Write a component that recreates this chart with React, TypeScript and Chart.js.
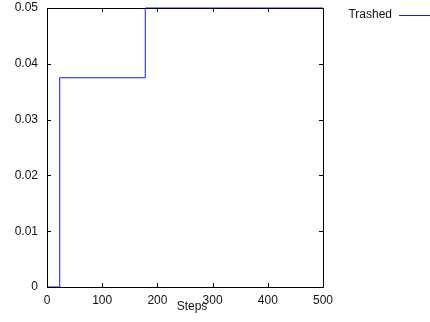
import React, { useEffect, useRef } from "react";
import { Chart, registerables } from "chart.js";

Chart.register(...registerables);

const steps = [0, 23, 178, 500];
const trashed = [0, 0.0375, 0.05, 0.05];
const xTicks = [0, 100, 200, 300, 400, 500];
const yTicks = [0, 0.01, 0.02, 0.03, 0.04, 0.05];
const yTickLabels = ["0", "0.01", "0.02", "0.03", "0.04", "0.05"];
const seriesName = "Trashed";
const xTitle = "Steps";

const FONT = "12px 'Liberation Sans', Arial, sans-serif";
const BLUE = "rgb(20,20,255)";

const framePlugin = {
  id: "frame",
  afterDatasetsDraw(chart: any) {
    const { ctx, chartArea, scales } = chart;
    const { left, right, top, bottom } = chartArea;
    ctx.save();
    ctx.strokeStyle = "#000";
    ctx.lineWidth = 1;
    ctx.beginPath();
    ctx.rect(Math.round(left) + 0.5, Math.round(top) + 0.5, Math.round(right - left), Math.round(bottom - top));
    ctx.stroke();
    const tl = 4;
    ctx.beginPath();
    for (const v of xTicks) {
      const x = Math.round(scales.x.getPixelForValue(v)) + 0.5;
      ctx.moveTo(x, bottom);
      ctx.lineTo(x, bottom - tl);
      ctx.moveTo(x, top);
      ctx.lineTo(x, top + tl);
    }
    for (const v of yTicks) {
      const y = Math.round(scales.y.getPixelForValue(v)) + 0.5;
      ctx.moveTo(left, y);
      ctx.lineTo(left + tl, y);
      ctx.moveTo(right, y);
      ctx.lineTo(right - tl, y);
    }
    ctx.stroke();
    ctx.fillStyle = "#111";
    ctx.font = FONT;
    ctx.textAlign = "center";
    ctx.textBaseline = "middle";
    ctx.fillText(xTitle, 192, 307);
    ctx.textAlign = "right";
    ctx.fillText(seriesName, 392, 15);
    ctx.strokeStyle = BLUE;
    ctx.beginPath();
    ctx.moveTo(399, 15.5);
    ctx.lineTo(430, 15.5);
    ctx.stroke();
    ctx.restore();
  },
};

export default function App() {
  const ref = useRef<HTMLCanvasElement>(null);
  useEffect(() => {
    if (!ref.current) return;
    const chart = new Chart(ref.current, {
      type: "line",
      data: {
        datasets: [
          {
            label: seriesName,
            data: steps.map((s, i) => ({ x: s, y: trashed[i] })),
            borderColor: BLUE,
            borderWidth: 1,
            pointRadius: 0,
            stepped: "before",
            fill: false,
            clip: 2,
          },
        ],
      },
      options: {
        responsive: false,
        animation: false,
        layout: { padding: { left: 0, top: 8, right: 107, bottom: 0 } },
        plugins: { legend: { display: false }, tooltip: { enabled: false } },
        scales: {
          x: {
            type: "linear",
            min: 0,
            max: 500,
            afterFit: (s: any) => {
              s.height = 35;
              s.paddingLeft = 0;
              s.paddingRight = 0;
            },
            afterBuildTicks: (s: any) => {
              s.ticks = xTicks.map((v) => ({ value: v }));
            },
            grid: { display: false, drawTicks: false },
            border: { display: false },
            ticks: {
              padding: 6,
              color: "#111",
              font: { family: "'Liberation Sans', Arial, sans-serif", size: 12 },
              maxRotation: 0,
              callback: (v: any) => String(v),
            },
          },
          y: {
            type: "linear",
            min: 0,
            max: 0.05,
            afterFit: (s: any) => {
              s.width = 47;
              s.paddingTop = 0;
              s.paddingBottom = 0;
            },
            afterBuildTicks: (s: any) => {
              s.ticks = yTicks.map((v) => ({ value: v }));
            },
            grid: { display: false, drawTicks: false },
            border: { display: false },
            ticks: {
              padding: 9,
              color: "#111",
              font: { family: "'Liberation Sans', Arial, sans-serif", size: 12 },
              callback: (v: any) => {
                const i = yTicks.findIndex((t) => Math.abs(t - v) < 1e-9);
                return i >= 0 ? yTickLabels[i] : "";
              },
            },
          },
        },
      },
      plugins: [framePlugin],
    });
    return () => chart.destroy();
  }, []);
  return (
    <div style={{ position: "absolute", left: 0, top: 0, width: 430, height: 322, background: "#fff" }}>
      <canvas ref={ref} width={430} height={322} style={{ width: 430, height: 322, display: "block" }} />
    </div>
  );
}
